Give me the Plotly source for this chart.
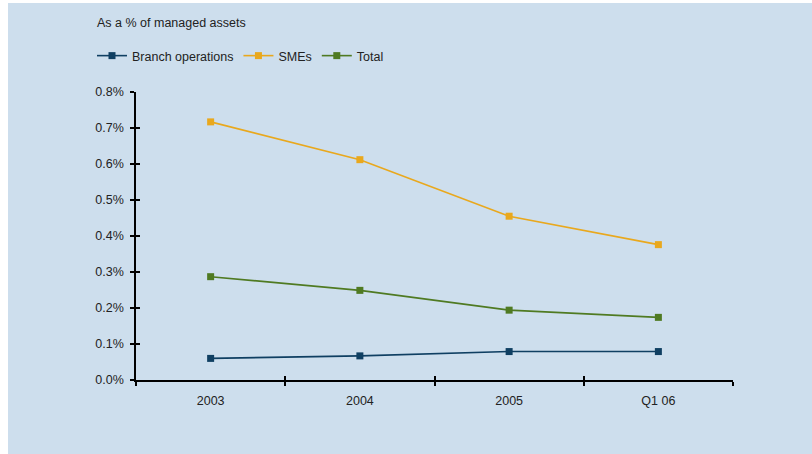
import plotly.graph_objects as go

# Periods on the horizontal axis
periods = ["2003", "2004", "2005", "Q1 06"]

# Ratios as a fraction of managed assets
branch_operations = [0.00060, 0.00067, 0.00079, 0.00079]
smes = [0.00717, 0.00612, 0.00455, 0.00376]
total = [0.00287, 0.00249, 0.00194, 0.00174]

y_ticks = [0.000, 0.001, 0.002, 0.003, 0.004, 0.005, 0.006, 0.007, 0.008]

series = [
    ("Branch operations", branch_operations, "#0f3f62"),
    ("SMEs", smes, "#e9a81d"),
    ("Total", total, "#4f7a22"),
]

BG = "#cddeed"
FS = 12.5
FONT = dict(family="Liberation Sans, Arial, sans-serif", size=FS, color="#222222")

fig = go.Figure()
for name, values, color in series:
    fig.add_trace(go.Scatter(
        x=periods, y=values, name=name, mode="lines+markers",
        line=dict(color=color, width=1.6),
        marker=dict(symbol="square", size=7, color=color),
    ))

# Plot geometry in pixels (used for paper-relative placement)
W, H = 812, 454
L, R, T, B = 136, 733, 92, 380
pw, ph = R - L, B - T


def px_x(p):
    return (p - L) / pw


def px_y(p):
    return (B - p) / ph


fig.update_layout(
    width=W, height=H,
    margin=dict(l=L, r=W - R, t=T, b=H - B, pad=0),
    paper_bgcolor="white",
    plot_bgcolor="rgba(0,0,0,0)",
    font=FONT,
    showlegend=True,
    title=dict(
        text="As a % of managed assets",
        x=97 / W, xref="container", xanchor="left",
        y=1 - 23 / H, yref="container", yanchor="middle",
        font=dict(size=FS, color="#222222"),
    ),
    legend=dict(
        orientation="h",
        x=px_x(92), xanchor="left",
        y=px_y(56), yanchor="middle",
        bgcolor="rgba(0,0,0,0)",
        font=dict(size=FS, color="#222222"),
        itemwidth=30,
        traceorder="normal",
    ),
    xaxis=dict(
        type="category",
        range=[-0.5, 3.5],
        showgrid=False, zeroline=False,
        showline=True, linecolor="black", linewidth=1.5,
        ticks="outside", ticklen=4, tickwidth=1.5, tickcolor="black",
        tickson="boundaries",
        ticklabelstandoff=8,
        tickfont=dict(size=FS, color="#222222"),
        fixedrange=True,
    ),
    yaxis=dict(
        range=[0, 0.008],
        tickvals=y_ticks, tickformat=".1%",
        showgrid=False, zeroline=False,
        showline=True, linecolor="black", linewidth=1.5,
        ticks="outside", ticklen=4, tickwidth=1.5, tickcolor="black",
        ticklabelstandoff=4,
        tickfont=dict(size=FS, color="#222222"),
        fixedrange=True,
    ),
    # Overlay axes carrying inward ticks so the tick marks cross the axis lines
    xaxis2=dict(
        overlaying="x", range=[-0.5, 3.5],
        tickvals=[-0.5, 0.5, 1.5, 2.5, 3.5],
        ticks="inside", ticklen=4, tickwidth=1.5, tickcolor="black",
        showticklabels=False, showgrid=False, zeroline=False, showline=False,
        fixedrange=True,
    ),
    yaxis2=dict(
        overlaying="y", range=[0, 0.008],
        tickvals=y_ticks,
        ticks="inside", ticklen=4, tickwidth=1.5, tickcolor="black",
        showticklabels=False, showgrid=False, zeroline=False, showline=False,
        fixedrange=True,
    ),
    shapes=[dict(
        type="rect", xref="paper", yref="paper", layer="below",
        x0=px_x(8), x1=px_x(W), y0=px_y(H), y1=px_y(3),
        fillcolor=BG, line=dict(width=0),
    )],
)

# Invisible trace that activates the overlay axes
fig.add_trace(go.Scatter(
    x=[None], y=[None], xaxis="x2", yaxis="y2",
    showlegend=False, hoverinfo="skip",
))

fig.write_html("out.html", config={"displayModeBar": False})
